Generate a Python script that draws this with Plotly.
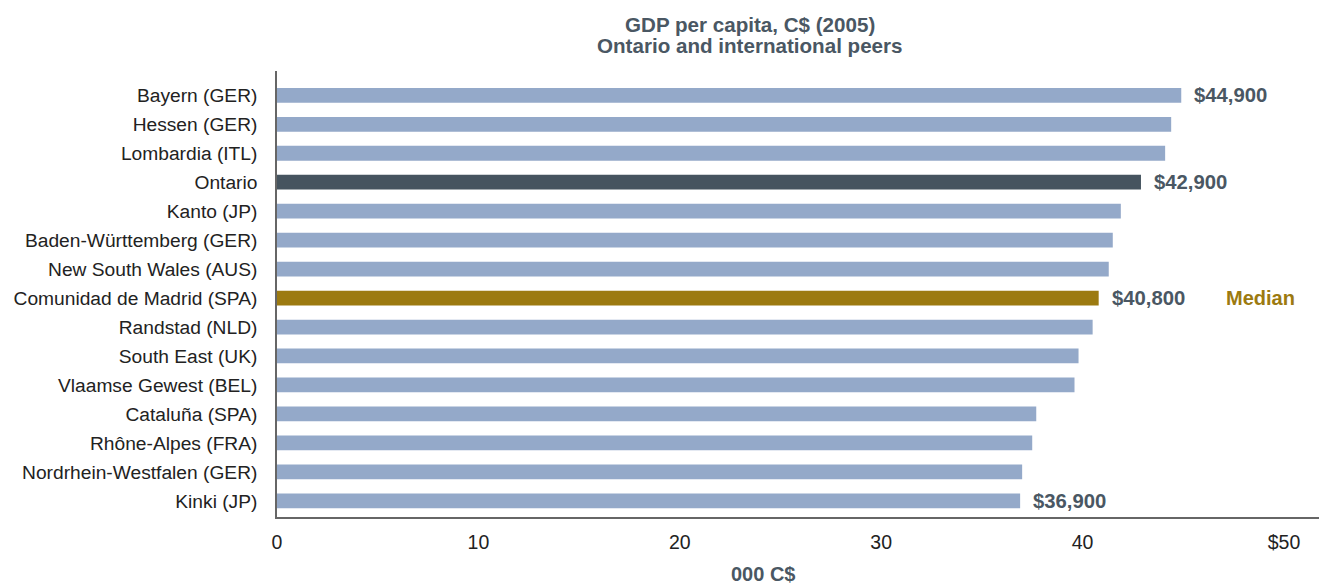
import plotly.graph_objects as go

# GDP per capita in thousands of C$ (2005), top row first
regions = [
    "Bayern (GER)", "Hessen (GER)", "Lombardia (ITL)", "Ontario", "Kanto (JP)",
    "Baden-Württemberg (GER)", "New South Wales (AUS)", "Comunidad de Madrid (SPA)",
    "Randstad (NLD)", "South East (UK)", "Vlaamse Gewest (BEL)", "Cataluña (SPA)",
    "Rhône-Alpes (FRA)", "Nordrhein-Westfalen (GER)", "Kinki (JP)",
]
gdp_k = [44.9, 44.4, 44.1, 42.9, 41.9, 41.5, 41.3, 40.8, 40.5, 39.8, 39.6, 37.7, 37.5, 37.0, 36.9]

labelled = ["Bayern (GER)", "Ontario", "Comunidad de Madrid (SPA)", "Kinki (JP)"]
highlight = "Ontario"
median_region = "Comunidad de Madrid (SPA)"

tick_vals = [0, 10, 20, 30, 40, 50]
tick_text = ["0", "10", "20", "30", "40", "$50"]

PEER = "#94a9c9"
ONT = "#46545f"
GOLD = "#9c7a10"
INK = "#4a5763"
FONT = "Liberation Sans, Arial, sans-serif"

colors = [ONT if r == highlight else GOLD if r == median_region else PEER for r in regions]

fig = go.Figure(
    go.Bar(
        x=gdp_k,
        y=regions,
        orientation="h",
        marker=dict(color=colors, line=dict(width=0)),
        width=0.51,
        hoverinfo="x+y",
    )
)

annotations = []
for r, v in zip(regions, gdp_k):
    if r in labelled:
        annotations.append(dict(
            x=v, y=r, xref="x", yref="y", xanchor="left", yanchor="middle",
            xshift=11, text=f"${v * 1000:,.0f}", showarrow=False,
            font=dict(family=FONT, size=20.3, color=INK, weight="bold"),
        ))
annotations.append(dict(
    x=47.0, y=median_region, xref="x", yref="y", xanchor="left", yanchor="middle",
    text="Median", showarrow=False,
    font=dict(family=FONT, size=20, color=GOLD, weight="bold"),
))

# plot-area edges in pixels, used to place the heading and axis caption
plot_l, plot_r, plot_t, plot_b = 276.5, 1319, 71, 517


def to_plot_paper(px, py):
    return (px - plot_l) / (plot_r - plot_l), (plot_b - py) / (plot_b - plot_t)


for text, px, py in [
    ("GDP per capita, C$ (2005)", 750, 24),
    ("Ontario and international peers", 750, 46),
]:
    ax, ay = to_plot_paper(px, py)
    annotations.append(dict(
        x=ax, y=ay, xref="paper", yref="paper", xanchor="center", yanchor="middle",
        text=text, showarrow=False,
        font=dict(family=FONT, size=20.6, color=INK, weight="bold"),
    ))

ax, ay = to_plot_paper(763, 574)
annotations.append(dict(
    x=ax, y=ay, xref="paper", yref="paper", xanchor="center", yanchor="middle",
    text="000 C$", showarrow=False,
    font=dict(family=FONT, size=20, color=INK, weight="bold"),
))

fig.update_layout(
    width=1319, height=588,
    margin=dict(l=plot_l, r=1319 - plot_r, t=plot_t, b=588 - plot_b, pad=0),
    paper_bgcolor="white", plot_bgcolor="white",
    showlegend=False,
    bargap=0.49,
    annotations=annotations,
)

fig.update_xaxes(
    range=[0, 51.74], tickvals=tick_vals, ticktext=tick_text,
    showgrid=False, zeroline=False, showline=True, linecolor="#666", linewidth=1.5,
    ticks="", ticklabelstandoff=7,
    tickfont=dict(family=FONT, size=19.5, color="#222"),
)
fig.update_yaxes(
    categoryorder="array", categoryarray=regions[::-1],
    range=[-0.56, 14.84],
    showgrid=False, zeroline=False, showline=True, linecolor="#666", linewidth=1.5,
    ticks="", ticklabelstandoff=14,
    tickfont=dict(family=FONT, size=19.2, color="#222"),
)

fig.write_html("out.html")
